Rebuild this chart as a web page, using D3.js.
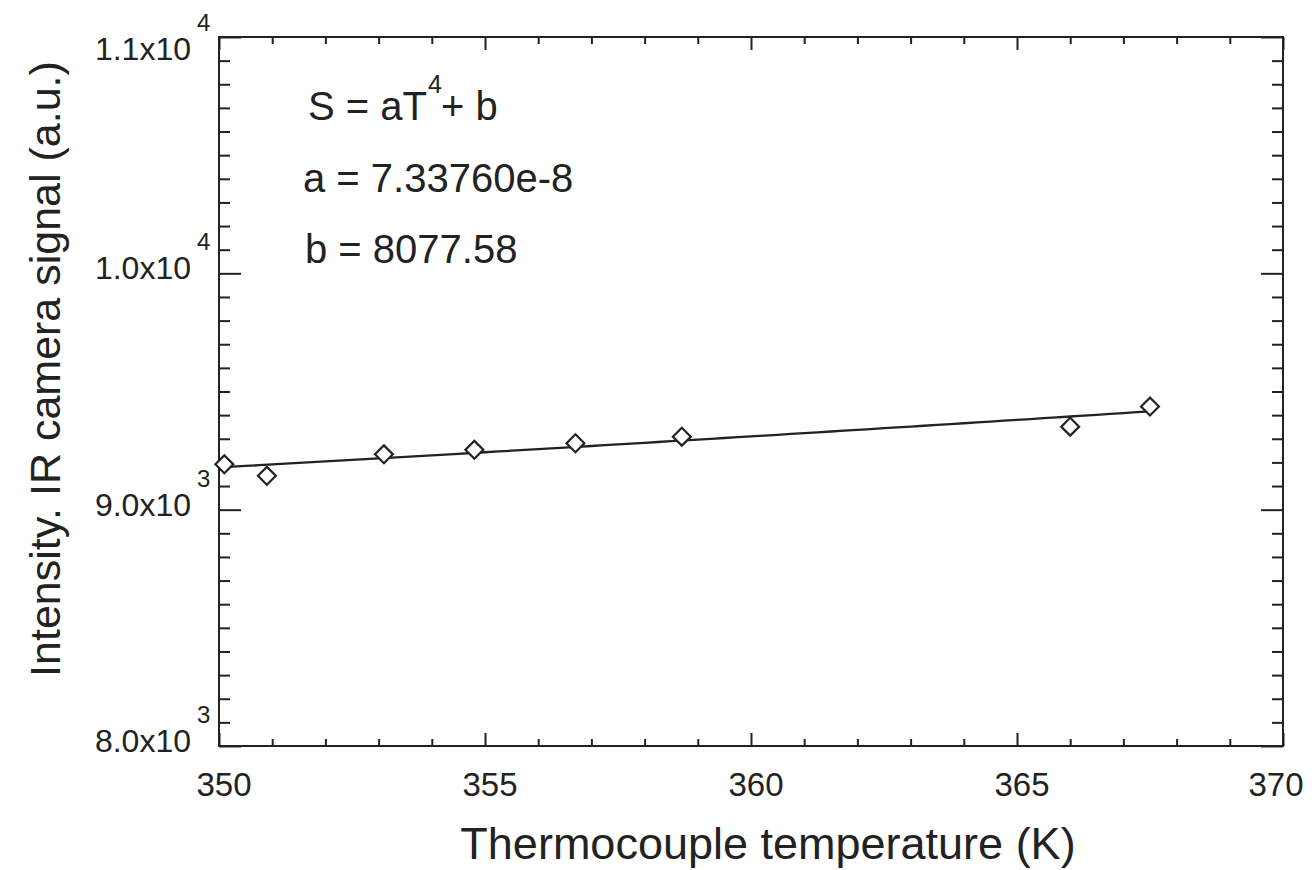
<!DOCTYPE html>
<html>
<head>
<meta charset="utf-8">
<script src="https://cdn.jsdelivr.net/npm/d3@7"></script>
<style>
  body { margin: 0; background: #fff; }
  text { font-family: "Liberation Sans", Arial, Helvetica, sans-serif; fill: #222; }
</style>
</head>
<body>
<svg id="chart" width="1312" height="870"></svg>
<script>
// data
const tempTicks = [350, 355, 360, 365, 370];
const signalTicks = [8000, 9000, 10000, 11000];
const signalMantissa = ["8.0", "9.0", "1.0", "1.1"];
const signalExp = ["3", "3", "4", "4"];
const temperature = [350.1, 350.9, 353.1, 354.8, 356.7, 358.7, 366.0, 367.5];
const signal = [9192, 9143, 9234, 9253, 9281, 9309, 9351, 9436];
const fitA = [7.33760e-8];
const fitB = [8077.58];

const width = 1312, height = 870;
const margin = {top: 37, right: 29, bottom: 124, left: 219};
const svg = d3.select("#chart");
const ink = "#222";

const x = d3.scaleLinear().domain([350, 370]).range([margin.left, width - margin.right]);
const y = d3.scaleLinear().domain([8000, 11000]).range([height - margin.bottom, margin.top]);

const minorX = d3.range(350, 370.01, 1).filter(d => d % 5 != 0);
const minorY = d3.range(8000, 11000.1, 100).filter(d => d % 1000 != 0);

// ticks, all pointing inward
function tickAxis(axis, scale, vals, size, transform) {
  const g = svg.append("g")
    .attr("transform", transform)
    .call(axis(scale).tickValues(vals).tickSize(size).tickFormat(""));
  g.select(".domain").remove();
  g.selectAll("line").attr("stroke", ink).attr("stroke-width", 2);
}
const bottomY = height - margin.bottom, rightX = width - margin.right;
tickAxis(d3.axisBottom, x, tempTicks, -13, `translate(0,${bottomY})`);
tickAxis(d3.axisBottom, x, minorX, -7, `translate(0,${bottomY})`);
tickAxis(d3.axisTop, x, tempTicks, -13, `translate(0,${margin.top})`);
tickAxis(d3.axisTop, x, minorX, -7, `translate(0,${margin.top})`);
tickAxis(d3.axisLeft, y, signalTicks, -22, `translate(${margin.left},0)`);
tickAxis(d3.axisLeft, y, minorY, -11, `translate(${margin.left},0)`);
tickAxis(d3.axisRight, y, signalTicks, -22, `translate(${rightX},0)`);
tickAxis(d3.axisRight, y, minorY, -11, `translate(${rightX},0)`);

// frame
svg.append("rect")
  .attr("x", margin.left).attr("y", margin.top)
  .attr("width", rightX - margin.left).attr("height", bottomY - margin.top)
  .attr("fill", "none").attr("stroke", ink).attr("stroke-width", 2);

// x tick labels
svg.append("g").selectAll("text")
  .data(tempTicks)
  .enter()
  .append("text")
  .attr("x", d => Math.min(x(d) + 5, width - 36))
  .attr("y", bottomY + 50)
  .attr("text-anchor", "middle")
  .attr("font-size", 33)
  .text(d => d);

// y tick labels with power-of-ten exponent
const yl = svg.append("g").selectAll("g")
  .data(signalTicks)
  .enter()
  .append("g");
yl.append("text")
  .attr("x", margin.left - 28)
  .attr("y", d => Math.max(y(d) + 6, margin.top + 23))
  .attr("text-anchor", "end")
  .attr("font-size", 32)
  .text((d, i) => signalMantissa[i] + "x10");
yl.append("text")
  .attr("x", margin.left - 22)
  .attr("y", d => Math.max(y(d) + 6, margin.top + 23) - 29)
  .attr("font-size", 24)
  .text((d, i) => signalExp[i]);

// axis titles
svg.append("text")
  .attr("x", 768).attr("y", 859)
  .attr("text-anchor", "middle")
  .attr("font-size", 45)
  .text("Thermocouple temperature (K)");
svg.append("text")
  .attr("transform", "translate(60,369) rotate(-90)")
  .attr("text-anchor", "middle")
  .attr("font-size", 43)
  .text("Intensity. IR camera signal (a.u.)");

// fit curve S = aT^4 + b
const fitT = d3.range(350, d3.max(temperature) + 0.001, 0.25);
const line = d3.line()
  .x(d => x(d))
  .y(d => y(fitA[0] * Math.pow(d, 4) + fitB[0]));
svg.append("path")
  .datum(fitT)
  .attr("d", line)
  .attr("fill", "none")
  .attr("stroke", ink)
  .attr("stroke-width", 2.3);

// data points, open diamonds
const diamond = d3.symbol().type(d3.symbolSquare).size(160);
svg.append("g").selectAll("path")
  .data(temperature)
  .enter()
  .append("path")
  .attr("d", diamond)
  .attr("transform", (d, i) => `translate(${x(d)},${y(signal[i])}) rotate(45)`)
  .attr("fill", "#fff")
  .attr("stroke", ink)
  .attr("stroke-width", 2.2);

// fit annotation
const note = svg.append("g");
note.append("text").attr("x", 308).attr("y", 120).attr("font-size", 40).text("S = aT");
note.append("text").attr("x", 428).attr("y", 93).attr("font-size", 25).text("4");
note.append("text").attr("x", 441).attr("y", 120).attr("font-size", 40).text("+ b");
note.append("text").attr("x", 303).attr("y", 192).attr("font-size", 40)
  .text("a = " + fitA[0].toExponential(5));
note.append("text").attr("x", 305).attr("y", 263).attr("font-size", 40)
  .text("b = " + fitB[0]);
</script>
</body>
</html>
